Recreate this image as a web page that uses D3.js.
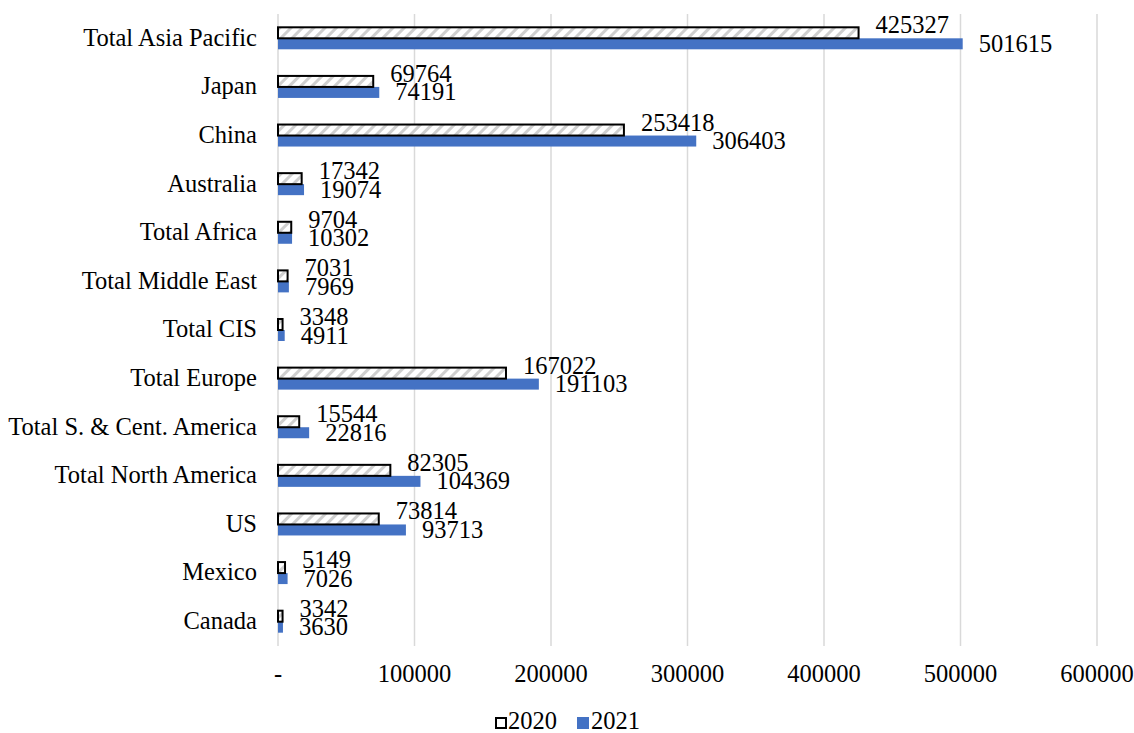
<!DOCTYPE html>
<html>
<head>
<meta charset="utf-8">
<script src="https://cdn.jsdelivr.net/npm/d3@7"></script>
<style>
  body { margin: 0; background: #fff; }
</style>
</head>
<body>
<script>
// chart data
var regions = ['Total Asia Pacific', 'Japan', 'China', 'Australia', 'Total Africa',
  'Total Middle East', 'Total CIS', 'Total Europe', 'Total S. & Cent. America',
  'Total North America', 'US', 'Mexico', 'Canada'];
var values2020 = [425327, 69764, 253418, 17342, 9704, 7031, 3348, 167022, 15544, 82305, 73814, 5149, 3342];
var values2021 = [501615, 74191, 306403, 19074, 10302, 7969, 4911, 191103, 22816, 104369, 93713, 7026, 3630];
var tickValues = [0, 100000, 200000, 300000, 400000, 500000, 600000];
var tickLabels = ['-', '100000', '200000', '300000', '400000', '500000', '600000'];
var seriesNames = ['2020', '2021'];

var svgWidth = 1134, svgHeight = 733;
var fontFamily = "'Liberation Serif', 'Times New Roman', 'DejaVu Serif', serif";
var fontSize = 24.5;
var blue = '#4472C4';
var gridColor = '#d9d9d9';

var svg = d3.select('body').append('svg')
  .attr('width', svgWidth)
  .attr('height', svgHeight)
  .attr('font-family', fontFamily)
  .style('font-family', fontFamily);

// hatch for the 2020 bars
var defs = svg.append('defs');
var pat = defs.append('pattern')
  .attr('id', 'hatch')
  .attr('patternUnits', 'userSpaceOnUse')
  .attr('width', 8).attr('height', 8)
  .attr('patternTransform', 'rotate(45)');
pat.append('rect').attr('width', 8).attr('height', 8).attr('fill', '#fff');
pat.append('rect').attr('x', 0).attr('y', 0).attr('width', 3).attr('height', 8).attr('fill', '#cfcfcf');

var x = d3.scaleLinear().domain([0, 600000]).range([278, 1097]);
var y = d3.scaleBand().domain(regions).range([14, 646]).paddingInner(0).paddingOuter(0);
var barH = 11;

// gridlines
svg.append('g').selectAll('line')
  .data(tickValues)
  .enter()
  .append('line')
  .attr('x1', function(d) { return x(d); })
  .attr('x2', function(d) { return x(d); })
  .attr('y1', 14)
  .attr('y2', 646)
  .attr('stroke', gridColor)
  .attr('stroke-width', 1.5);

// x tick labels
svg.append('g').selectAll('text')
  .data(tickValues)
  .enter()
  .append('text')
  .text(function(d, i) { return tickLabels[i]; })
  .attr('x', function(d) { return x(d); })
  .attr('y', 682)
  .attr('text-anchor', 'middle')
  .attr('font-family', fontFamily)
  .attr('font-size', fontSize + 'px');

// category labels
svg.append('g').selectAll('text')
  .data(regions)
  .enter()
  .append('text')
  .text(function(d) { return d; })
  .attr('x', 257)
  .attr('y', function(d) { return y(d) + y.bandwidth() / 2; })
  .attr('dy', '0.3em')
  .attr('text-anchor', 'end')
  .attr('font-family', fontFamily)
  .attr('font-size', fontSize + 'px');

var rows = regions.map(function(r, i) { return { region: r, v20: values2020[i], v21: values2021[i] }; });

// 2021 bars
svg.append('g').selectAll('rect')
  .data(rows)
  .enter()
  .append('rect')
  .attr('x', x(0))
  .attr('y', function(d) { return y(d.region) + y.bandwidth() / 2; })
  .attr('width', function(d) { return x(d.v21) - x(0); })
  .attr('height', barH)
  .attr('fill', blue);

// 2020 bars
svg.append('g').selectAll('rect')
  .data(rows)
  .enter()
  .append('rect')
  .attr('x', x(0))
  .attr('y', function(d) { return y(d.region) + y.bandwidth() / 2 - barH; })
  .attr('width', function(d) { return x(d.v20) - x(0); })
  .attr('height', barH)
  .attr('fill', 'url(#hatch)')
  .attr('stroke', '#000')
  .attr('stroke-width', 2);

// value labels
svg.append('g').selectAll('text')
  .data(rows)
  .enter()
  .append('text')
  .text(function(d) { return d.v20; })
  .attr('x', function(d) { return x(d.v20) + 17; })
  .attr('y', function(d) { return y(d.region) + y.bandwidth() / 2 - barH / 2 + 0.5; })
  .attr('font-family', fontFamily)
  .attr('font-size', fontSize + 'px');

svg.append('g').selectAll('text')
  .data(rows)
  .enter()
  .append('text')
  .text(function(d) { return d.v21; })
  .attr('x', function(d) { return x(d.v21) + 16; })
  .attr('y', function(d) { return y(d.region) + y.bandwidth() / 2 + barH / 2 + 8; })
  .attr('font-family', fontFamily)
  .attr('font-size', fontSize + 'px');

// legend
var legend = svg.append('g');
legend.append('rect')
  .attr('x', 496).attr('y', 718).attr('width', 10).attr('height', 10)
  .attr('fill', '#fff').attr('stroke', '#000').attr('stroke-width', 2);
legend.append('text').text(seriesNames[0])
  .attr('x', 508).attr('y', 729)
  .attr('font-family', fontFamily)
  .attr('font-size', fontSize + 'px');
legend.append('rect')
  .attr('x', 577).attr('y', 717).attr('width', 12).attr('height', 12)
  .attr('fill', blue);
legend.append('text').text(seriesNames[1])
  .attr('x', 591).attr('y', 729)
  .attr('font-family', fontFamily)
  .attr('font-size', fontSize + 'px');
</script>
</body>
</html>
